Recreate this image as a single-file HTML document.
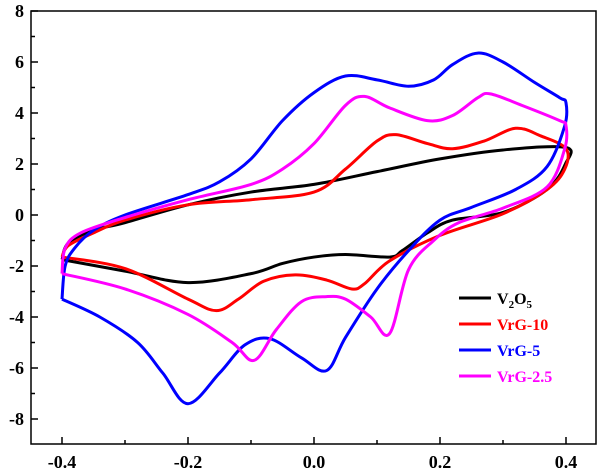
<!DOCTYPE html>
<html><head><meta charset="utf-8"><style>
body{margin:0;background:#fff}
svg{display:block;font-family:"Liberation Serif",serif;font-weight:bold}
</style></head><body>
<svg id="c" width="599" height="474"></svg>
<script>
const xTicks=[-0.4,-0.2,0.0,0.2,0.4];
const xTickLabels=["-0.4","-0.2","0.0","0.2","0.4"];
const yTicks=[-8,-6,-4,-2,0,2,4,6,8];
const yTickLabels=["-8","-6","-4","-2","0","2","4","6","8"];
const seriesNames=["V2O5","VrG-10","VrG-5","VrG-2.5"];
const v2o5E=[-0.4,-0.39,-0.35,-0.3,-0.2,-0.1,0,0.1,0.2,0.3,0.4,0.399,0.37,0.3,0.22,0.18,0.14,0.12,0.05,0,-0.05,-0.1,-0.2,-0.3,-0.4];
const v2o5I=[-1.75,-1.1,-0.6,-0.3,0.4,0.9,1.2,1.7,2.2,2.55,2.65,2.0,1.0,0.1,-0.2,-0.7,-1.4,-1.65,-1.55,-1.65,-1.9,-2.3,-2.65,-2.2,-1.75];
const vrg10E=[-0.4,-0.39,-0.35,-0.3,-0.2,-0.1,0,0.05,0.1,0.13,0.18,0.22,0.27,0.32,0.36,0.4,0.398,0.37,0.3,0.2,0.12,0.08,0.06,0.02,-0.03,-0.08,-0.12,-0.155,-0.2,-0.3,-0.4];
const vrg10I=[-1.65,-1.2,-0.7,-0.2,0.4,0.6,0.9,1.8,2.9,3.15,2.8,2.6,2.9,3.4,3.1,2.6,1.8,1.0,0.05,-0.8,-1.8,-2.7,-2.9,-2.55,-2.35,-2.6,-3.3,-3.75,-3.3,-2.1,-1.65];
const vrg5E=[-0.4,-0.395,-0.38,-0.35,-0.3,-0.2,-0.15,-0.1,-0.05,0,0.05,0.1,0.15,0.19,0.22,0.26,0.3,0.35,0.39,0.4,0.398,0.37,0.32,0.25,0.2,0.15,0.1,0.05,0.02,-0.02,-0.07,-0.11,-0.15,-0.2,-0.24,-0.28,-0.34,-0.4];
const vrg5I=[-3.3,-2.0,-1.3,-0.6,0,0.8,1.3,2.2,3.7,4.8,5.45,5.3,5.05,5.3,5.9,6.35,6.0,5.2,4.6,4.4,3.5,1.9,1.0,0.3,-0.2,-1.4,-2.9,-4.8,-6.1,-5.6,-4.85,-5.1,-6.2,-7.4,-6.2,-5.0,-4.0,-3.3];
const vrg25E=[-0.4,-0.395,-0.37,-0.3,-0.2,-0.1,-0.05,0,0.05,0.08,0.12,0.18,0.22,0.26,0.28,0.33,0.39,0.4,0.398,0.37,0.3,0.23,0.19,0.15,0.12,0.09,0.05,0.02,-0.02,-0.06,-0.095,-0.13,-0.2,-0.3,-0.4];
const vrg25I=[-2.3,-1.3,-0.7,-0.1,0.6,1.2,1.8,2.8,4.3,4.65,4.2,3.7,3.9,4.6,4.75,4.3,3.7,3.5,2.6,1.1,0.27,-0.3,-1.0,-2.15,-4.65,-4.0,-3.3,-3.2,-3.4,-4.5,-5.7,-5.0,-3.9,-2.9,-2.3];
const colors=["#000","#f00","#00f","#f0f"];
const X=v=>314+v*630, Y=v=>215-25.5*v;
const NS="http://www.w3.org/2000/svg", svg=document.getElementById('c');
function mk(t,a,p){const e=document.createElementNS(NS,t);for(const k in a)e.setAttribute(k,a[k]);(p||svg).appendChild(e);return e;}
function smooth(E,I){const p=E.map((e,i)=>[X(e),Y(I[i])]);let d=`M${p[0][0]},${p[0][1]}`;
for(let i=0;i<p.length-1;i++){const p0=p[i-1]||p[i],p1=p[i],p2=p[i+1],p3=p[i+2]||p2;
d+=`C${p1[0]+(p2[0]-p0[0])/6},${p1[1]+(p2[1]-p0[1])/6} ${p2[0]-(p3[0]-p1[0])/6},${p2[1]-(p3[1]-p1[1])/6} ${p2[0]},${p2[1]}`;}return d;}
const frame=mk('rect',{x:31,y:11,width:565,height:433,fill:'none',stroke:'#000','stroke-width':1.5});

xTicks.forEach((v,i)=>{mk('line',{x1:X(v),x2:X(v),y1:444,y2:437,stroke:'#000','stroke-width':1.5});
const t=mk('text',{x:X(v),y:468,'text-anchor':'middle','font-size':18});t.textContent=xTickLabels[i];

if(i<xTicks.length-1)mk('line',{x1:X(v+0.1),x2:X(v+0.1),y1:444,y2:440,stroke:'#000','stroke-width':1.5});});
yTicks.forEach((v,i)=>{mk('line',{x1:31,x2:38,y1:Y(v),y2:Y(v),stroke:'#000','stroke-width':1.5});
const t=mk('text',{x:24,y:Y(v)+6,'text-anchor':'end','font-size':18});t.textContent=yTickLabels[i];

if(v<8)mk('line',{x1:31,x2:35,y1:Y(v+1),y2:Y(v+1),stroke:'#000','stroke-width':1.5});});
const data=[[v2o5E,v2o5I],[vrg10E,vrg10I],[vrg5E,vrg5I],[vrg25E,vrg25I]];
data.forEach((s,k)=>{const p=mk('path',{d:smooth(s[0],s[1]),fill:'none',stroke:colors[k],'stroke-width':3,'stroke-linejoin':'round'});
});
const ly=[298,324,350,376];
seriesNames.forEach((n,k)=>{const g=mk('g',{});

mk('line',{x1:459,x2:491,y1:ly[k],y2:ly[k],stroke:colors[k],'stroke-width':3},g);
const t=mk('text',{x:497,y:ly[k]+6,'font-size':16,fill:colors[k]},g);
if(k===0){t.innerHTML='V<tspan font-size="11" dy="4">2</tspan><tspan dy="-4">O</tspan><tspan font-size="11" dy="4">5</tspan>';}else t.textContent=n;});
</script>
</body></html>
